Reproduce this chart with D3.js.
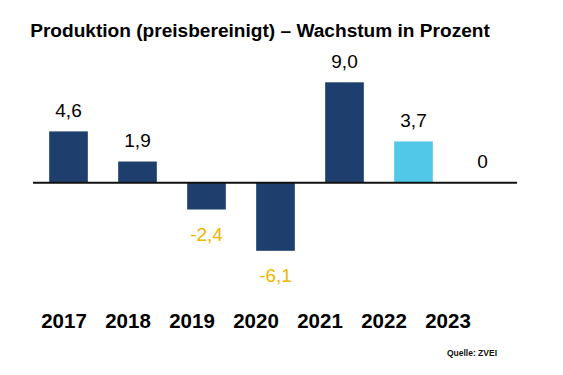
<!DOCTYPE html>
<html>
<head>
<meta charset="utf-8">
<script src="https://cdn.jsdelivr.net/npm/d3@7"></script>
<style>
  body { margin: 0; background: #fff; }
  svg { display: block; font-family: "Liberation Sans", Arial, sans-serif; }
</style>
</head>
<body>
<div id="viz"></div>
<script>
const width = 563;
const height = 375;

// data
const years = ['2017', '2018', '2019', '2020', '2021', '2022', '2023'];
const growth = [4.6, 1.9, -2.4, -6.1, 9.0, 3.7, 0];
const labels = ['4,6', '1,9', '-2,4', '-6,1', '9,0', '3,7', '0'];
const highlightYear = '2022';

const navy = '#1e3f6d';
const lightBlue = '#52c8e9';
const negColor = '#f2b500';

const svg = d3.select('#viz')
    .append('svg')
        .attr('width', width)
        .attr('height', height);

// title
svg.append('text')
    .attr('x', 260)
    .attr('y', 36.5)
    .attr('text-anchor', 'middle')
    .attr('font-size', 19.1)
    .attr('font-weight', 'bold')
    .attr('fill', '#000')
    .text('Produktion (preisbereinigt) – Wachstum in Prozent');

const x = d3.scaleBand()
    .domain(years)
    .range([34, 517])
    .paddingInner(0.44)
    .paddingOuter(0.22);

const y = d3.scaleLinear()
    .domain([-6.1, 9.0])
    .range([250.8, 82.3]);

const data = years.map((yr, i) => ({year: yr, value: growth[i], label: labels[i]}));

// bars
svg.selectAll('rect.bar')
    .data(data)
    .join('rect')
        .attr('class', 'bar')
        .attr('x', d => x(d.year))
        .attr('y', d => y(Math.max(0, d.value)))
        .attr('width', x.bandwidth())
        .attr('height', d => Math.abs(y(d.value) - y(0)))
        .attr('fill', d => d.year === highlightYear ? lightBlue : navy);

// zero line
svg.append('line')
    .attr('x1', 33)
    .attr('x2', 517)
    .attr('y1', y(0))
    .attr('y2', y(0))
    .attr('stroke', '#111')
    .attr('stroke-width', 2);

// value labels
svg.selectAll('text.val')
    .data(data)
    .join('text')
        .attr('class', 'val')
        .attr('x', d => x(d.year) + x.bandwidth() / 2)
        .attr('y', d => d.value < 0 ? y(d.value) + 31 : y(d.value) - 14.5)
        .attr('text-anchor', 'middle')
        .attr('font-size', 19)
        .attr('fill', d => d.value < 0 ? negColor : '#000')
        .text(d => d.label);

// year labels (sit a bit further left than the bars)
const xYear = d3.scalePoint()
    .domain(years)
    .range([63.5, 447.5]);

const yearAxis = svg.append('g')
    .attr('transform', 'translate(0, 327.5)')
    .call(d3.axisBottom(xYear).tickSize(0).tickPadding(0));
yearAxis.select('.domain').remove();
yearAxis.selectAll('text')
    .attr('dy', 0)
    .attr('font-size', 20.5)
    .attr('font-weight', 'bold')
    .attr('font-family', '"Liberation Sans", Arial, sans-serif')
    .attr('fill', '#000');

// source
svg.append('text')
    .attr('x', 497)
    .attr('y', 356)
    .attr('text-anchor', 'end')
    .attr('font-size', 8.5)
    .attr('font-weight', 'bold')
    .attr('fill', '#111')
    .text('Quelle: ZVEI');
</script>
</body>
</html>
